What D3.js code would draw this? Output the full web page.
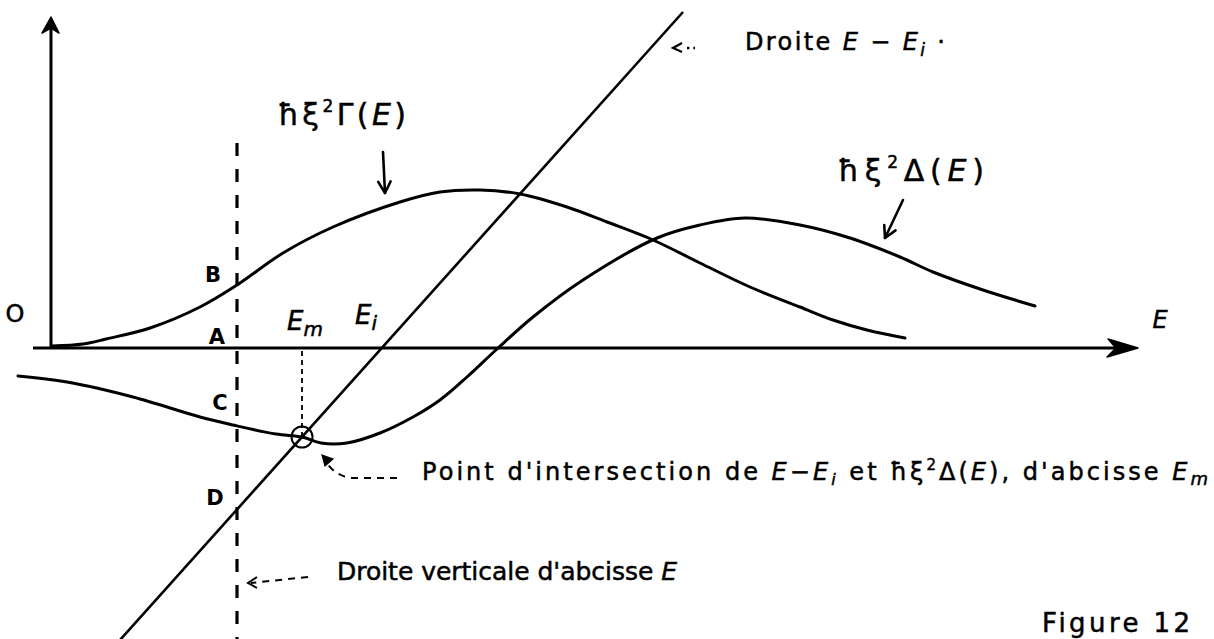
<!DOCTYPE html>
<html>
<head>
<meta charset="utf-8">
<script src="https://cdn.jsdelivr.net/npm/d3@7"></script>
<style>
  html, body { margin: 0; padding: 0; background: #fff; }
  svg { display: block; }
  text { font-family: "DejaVu Sans", "Liberation Sans", sans-serif; fill: #000; stroke: #000; stroke-width: 0.5px; }
</style>
</head>
<body>
<svg id="fig" width="1214" height="639"></svg>
<script>
// ---- Data (energy E on the horizontal axis, function values on the vertical axis)
const gammaCurve = [ // ħξ²Γ(E)
  [0.01, 0.02], [0.32, 0.04], [0.55, 0.09], [0.99, 0.20], [1.49, 0.41], [1.86, 0.63],
  [2.32, 0.95], [2.82, 1.21], [3.49, 1.46], [3.89, 1.56], [4.29, 1.58], [4.69, 1.54],
  [5.16, 1.41], [5.56, 1.26], [6.02, 1.08], [6.49, 0.85], [6.99, 0.61], [7.49, 0.41],
  [7.82, 0.28], [8.16, 0.18], [8.54, 0.10]
];
const deltaCurve = [ // ħξ²Δ(E)
  [-0.33, -0.28], [0.16, -0.34], [0.82, -0.49], [1.49, -0.69], [1.82, -0.77],
  [2.25, -0.86], [2.51, -0.89], [2.70, -0.95], [2.96, -0.95], [3.29, -0.85],
  [3.62, -0.69], [3.89, -0.52], [4.16, -0.29], [4.46, -0.01], [4.82, 0.31],
  [5.32, 0.68], [6.06, 1.10], [6.49, 1.23], [6.94, 1.30], [7.49, 1.23],
  [7.99, 1.10], [8.49, 0.91], [8.82, 0.76], [9.32, 0.58], [9.84, 0.42]
];
const lineEEi = [[0.69, -2.92], [6.32, 3.36]];   // straight line E − Ei
const Ei = 3.31;          // where E − Ei crosses the axis
const Em = 2.51;          // abscissa of the intersection point
const EmValue = -0.89;    // ordinate of the intersection point
const Evert = 1.86;       // abscissa of the vertical dashed line
const verticalSpan = [2.05, -2.91];
const pointLabels = [     // points on the vertical line
  { name: "B", v: 0.73 }, { name: "A", v: 0.11 },
  { name: "C", v: -0.55 }, { name: "D", v: -1.50 }
];

// ---- Scales
const svg = d3.select("#fig");
const x = d3.scaleLinear().domain([0, 10]).range([51, 1051]);
const y = d3.scaleLinear().domain([0, 3]).range([348, 48]);

const ink = "#000";
const curve = d3.line().x(d => x(d[0])).y(d => y(d[1])).curve(d3.curveCatmullRom.alpha(0.5));

// ---- Axes
svg.append("line").attr("x1", x(-0.18)).attr("x2", x(10.82)).attr("y1", y(0)).attr("y2", y(0))
  .attr("stroke", ink).attr("stroke-width", 3);
svg.append("line").attr("x1", x(0)).attr("x2", x(0)).attr("y1", y(0)).attr("y2", y(3.25))
  .attr("stroke", ink).attr("stroke-width", 3);
// arrowheads
{
  const tx = x(0), ty = y(3.31);
  svg.append("path")
    .attr("d", `M${tx},${ty} L${tx - 9},${ty + 16} L${tx},${ty + 11} L${tx + 8},${ty + 16} Z`)
    .attr("fill", ink).attr("stroke", ink).attr("stroke-width", 1.5).attr("stroke-linejoin", "round");
  const ax = x(10.87), ay = y(0);
  svg.append("path")
    .attr("d", `M${ax},${ay} L${ax - 30},${ay - 9} L${ax - 22},${ay} L${ax - 31},${ay + 9} Z`)
    .attr("fill", ink).attr("stroke", ink).attr("stroke-width", 1.5).attr("stroke-linejoin", "round");
}

// ---- Curves
svg.append("path").attr("d", curve(gammaCurve)).attr("fill", "none")
  .attr("stroke", ink).attr("stroke-width", 3).attr("stroke-linecap", "round");
svg.append("path").attr("d", curve(deltaCurve)).attr("fill", "none")
  .attr("stroke", ink).attr("stroke-width", 3).attr("stroke-linecap", "round");
svg.append("path").attr("d", d3.line().x(d => x(d[0])).y(d => y(d[1]))(lineEEi)).attr("fill", "none")
  .attr("stroke", ink).attr("stroke-width", 2.6);

// ---- Vertical dashed line at E, and the Em guide
svg.append("line").attr("x1", x(Evert)).attr("x2", x(Evert))
  .attr("y1", y(verticalSpan[0])).attr("y2", y(verticalSpan[1]))
  .attr("stroke", ink).attr("stroke-width", 3.2).attr("stroke-dasharray", "13,13");
svg.append("line").attr("x1", x(Em)).attr("x2", x(Em))
  .attr("y1", y(-0.03)).attr("y2", y(EmValue))
  .attr("stroke", ink).attr("stroke-width", 1.8).attr("stroke-dasharray", "5,4");
svg.append("circle").attr("cx", x(Em)).attr("cy", y(EmValue)).attr("r", 10.5)
  .attr("fill", "none").attr("stroke", ink).attr("stroke-width", 2);

// ---- Point letters
const letterX = { B: -0.24, A: -0.20, C: -0.17, D: -0.22 };
svg.selectAll("text.pt").data(pointLabels).join("text").attr("class", "pt")
  .attr("x", d => x(Evert + letterX[d.name])).attr("y", d => y(d.v))
  .attr("text-anchor", "middle").attr("dominant-baseline", "central")
  .attr("font-size", 21).attr("font-weight", "bold").style("stroke-width", "0px").text(d => d.name);
svg.append("text").attr("x", x(-0.36)).attr("y", y(0.34)).attr("text-anchor", "middle")
  .attr("dominant-baseline", "central").attr("font-size", 24).text("O");

// Em, Ei, E labels
function sub(sel, main, s, size) {
  sel.append("tspan").text(main);
  sel.append("tspan").attr("dy", 6).attr("font-size", size).text(s);
}
{
  const t = svg.append("text").attr("x", x(2.36)).attr("y", y(0.18)).attr("font-size", 26).attr("font-style", "italic");
  sub(t, "E", "m", 20);
  const t2 = svg.append("text").attr("x", x(3.04)).attr("y", y(0.24)).attr("font-size", 26).attr("font-style", "italic");
  sub(t2, "E", "i", 20);
  svg.append("text").attr("x", x(11.09)).attr("y", y(0.28)).attr("text-anchor", "middle")
    .attr("dominant-baseline", "central").attr("font-size", 24).attr("font-style", "italic").text("E");
}

// ---- Function labels
function funcLabel(px, py, sym, width) {
  const t = svg.append("text").attr("x", px).attr("y", py).attr("font-size", 30)
    .attr("textLength", width).attr("lengthAdjust", "spacing");
  t.append("tspan").text("ħξ");
  t.append("tspan").attr("dy", -13).attr("font-size", 17).text("2");
  t.append("tspan").attr("dy", 13).text(sym + "(");
  t.append("tspan").attr("font-style", "italic").text("E");
  t.append("tspan").text(")");
}
funcLabel(x(2.27), y(2.23), "Γ", 128);
funcLabel(x(7.87), y(1.67), "Δ", 146);

// label arrows (open V heads)
function arrowLine(x1, y1, x2, y2, w) {
  svg.append("line").attr("x1", x1).attr("y1", y1).attr("x2", x2).attr("y2", y2)
    .attr("stroke", ink).attr("stroke-width", w).attr("stroke-linecap", "round");
  const a = Math.atan2(y2 - y1, x2 - x1), L = 13, s = 0.5;
  svg.append("path")
    .attr("d", `M${x2 - L * Math.cos(a - s)},${y2 - L * Math.sin(a - s)} L${x2},${y2} L${x2 - L * Math.cos(a + s)},${y2 - L * Math.sin(a + s)}`)
    .attr("fill", "none").attr("stroke", ink).attr("stroke-width", w).attr("stroke-linejoin", "round").attr("stroke-linecap", "round");
}
arrowLine(x(3.32), y(1.96), x(3.34), y(1.55), 2.6);
arrowLine(x(8.52), y(1.48), x(8.34), y(1.10), 2.6);

// ---- "Droite E - Ei" annotation
{
  const hx = x(6.22), hy = y(3.0);
  svg.append("path").attr("d", `M${hx + 9},${hy - 5} L${hx},${hy} L${hx + 9},${hy + 4}`)
    .attr("fill", "none").attr("stroke", ink).attr("stroke-width", 2.2);
  svg.append("line").attr("x1", hx + 14).attr("x2", hx + 22).attr("y1", hy).attr("y2", hy)
    .attr("stroke", ink).attr("stroke-width", 2.4).attr("stroke-dasharray", "2.4,4");
  const t = svg.append("text").attr("x", x(6.94)).attr("y", y(2.98)).attr("font-size", 24)
    .attr("textLength", 200).attr("lengthAdjust", "spacing");
  t.append("tspan").text("Droite ");
  t.append("tspan").attr("font-style", "italic").text("E");
  t.append("tspan").text(" − ");
  t.append("tspan").attr("font-style", "italic").text("E");
  t.append("tspan").attr("dy", 6).attr("font-size", 17).attr("font-style", "italic").text("i");
  t.append("tspan").attr("dy", -6).text(" ·");
}

// ---- Intersection point annotation
{
  const sx = x(3.46), sy = y(-1.30);
  const ex = x(2.71), ey = y(-1.07);
  svg.append("path").attr("d", `M${sx},${sy} L${sx - 45},${sy} Q${ex + 12},${sy - 2} ${ex + 3},${ey + 5}`)
    .attr("fill", "none").attr("stroke", ink).attr("stroke-width", 2).attr("stroke-dasharray", "7,6");
  svg.append("path").attr("d", `M${ex},${ey} L${ex + 11},${ey + 4} L${ex + 3},${ey + 11} Z`)
    .attr("fill", ink).attr("stroke", ink).attr("stroke-width", 1.2);
  const t = svg.append("text").attr("x", x(3.71)).attr("y", y(-1.32)).attr("font-size", 24)
    .attr("textLength", 786).attr("lengthAdjust", "spacing");
  t.append("tspan").text("Point d'intersection de ");
  t.append("tspan").attr("font-style", "italic").text("E");
  t.append("tspan").text("−");
  t.append("tspan").attr("font-style", "italic").text("E");
  t.append("tspan").attr("dy", 5).attr("font-size", 16).attr("font-style", "italic").text("i");
  t.append("tspan").attr("dy", -5).text(" et ħξ");
  t.append("tspan").attr("dy", -10).attr("font-size", 15).text("2");
  t.append("tspan").attr("dy", 10).text("Δ(");
  t.append("tspan").attr("font-style", "italic").text("E");
  t.append("tspan").text("), d'abcisse ");
  t.append("tspan").attr("font-style", "italic").text("E");
  t.append("tspan").attr("dy", 5).attr("font-size", 18).attr("font-style", "italic").text("m");
}

// ---- Vertical line annotation
{
  const sx = x(2.57), sy = y(-2.29);
  const ex = x(1.97), ey = y(-2.35);
  svg.append("line").attr("x1", sx).attr("y1", sy).attr("x2", ex + 3).attr("y2", ey)
    .attr("stroke", ink).attr("stroke-width", 2).attr("stroke-dasharray", "7,6");
  svg.append("path").attr("d", `M${ex + 9},${ey - 6} L${ex},${ey} L${ex + 9},${ey + 5}`)
    .attr("fill", "none").attr("stroke", ink).attr("stroke-width", 2);
  const t = svg.append("text").attr("x", x(2.86)).attr("y", y(-2.32)).attr("font-size", 25)
    .attr("textLength", 340).attr("lengthAdjust", "spacing");
  t.append("tspan").text("Droite verticale  d'abcisse ");
  t.append("tspan").attr("font-style", "italic").text("E");
}

// ---- Figure number
svg.append("text").attr("x", 1042).attr("y", 632).attr("font-size", 26)
  .attr("textLength", 148).attr("lengthAdjust", "spacing").text("Figure 12");
</script>
</body>
</html>
